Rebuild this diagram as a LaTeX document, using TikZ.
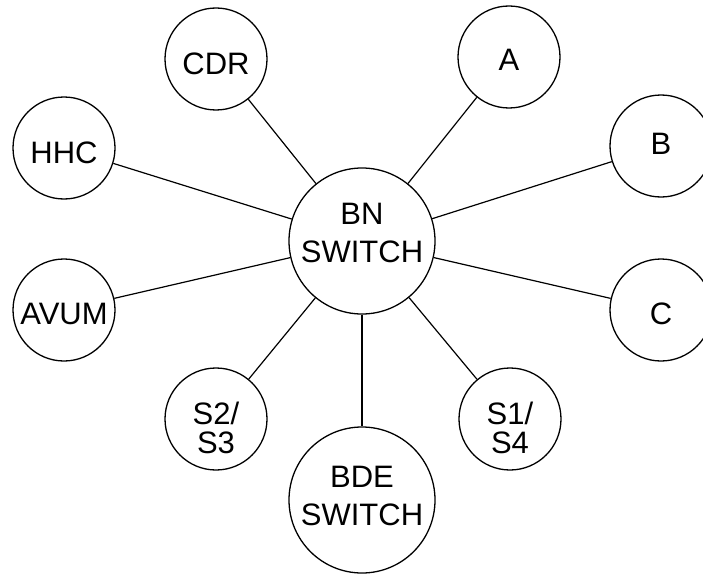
\documentclass[tikz,border=0pt]{standalone}
\usepackage{fontspec}
\setmainfont{Liberation Sans}
\begin{document}
\begin{tikzpicture}[x=1pt,y=-1pt,
	unit/.style={circle,draw,line width=1.3pt,minimum size=102pt,inner sep=0pt},
	hub/.style={unit,minimum size=146pt},
	txt/.style={inner sep=0pt,align=center,font=\fontsize{31}{29}\selectfont},
	bigtxt/.style={txt,font=\fontsize{31}{38}\selectfont},
	link/.style={line width=1.2pt}]
	\useasboundingbox[clip] (0,0) rectangle (703,575);
	\pgfmathsetmacro\XL{64}
	\pgfmathsetmacro\XR{661}
	
	\node[hub,label={[bigtxt,yshift=8.5pt]center:{BN\\SWITCH}}] (bn) at (362,241) {};
	\node[hub,label={[bigtxt,yshift=4pt]center:{BDE\\SWITCH}}] (bde) at (362,500) {};
	\node[unit,label={[txt,yshift=-5pt]center:CDR}] (cdr) at (216,59) {};
	\node[unit,label={[txt,yshift=-2.5pt]center:A}] (a) at (509,57) {};
	\node[unit,label={[txt,yshift=-4.5pt]center:HHC}] (hhc) at (\XL,148) {};
	\node[unit,label={[txt,yshift=2.5pt]center:B}] (b) at (\XR,146) {};
	\node[unit,label={[txt,yshift=-3.5pt]center:AVUM}] (avum) at (\XL,310) {};
	\node[unit,label={[txt,yshift=-4pt]center:C}] (c) at (\XR,310) {};
	\node[unit,label={[txt,yshift=-9pt]center:{S2/\\S3}}] (s23) at (216,419) {};
	\node[unit,label={[txt,yshift=-9pt]center:{S1/\\S4}}] (s14) at (510,419) {};
	
	\draw[link] (bn) -- (cdr);
	\draw[link] (bn) -- (a);
	\draw[link] (bn) -- (hhc);
	\draw[link] (bn) -- (b);
	\draw[link] (bn) -- (avum);
	\draw[link] (bn) -- (c);
	\draw[link] (bn) -- (s23);
	\draw[link] (bn) -- (s14);
	\draw[link] (bn) -- (bde);
\end{tikzpicture}
\end{document}
